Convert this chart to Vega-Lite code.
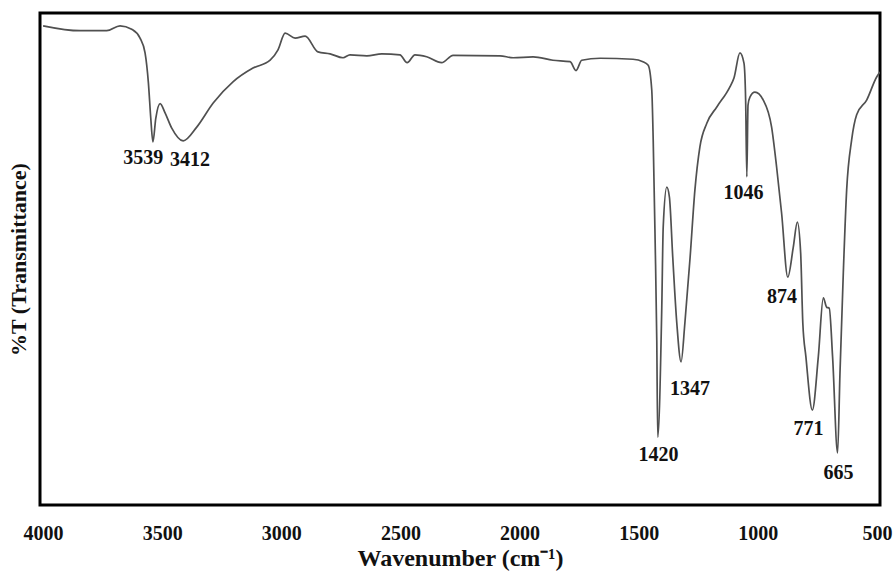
{
  "$schema": "https://vega.github.io/schema/vega-lite/v6.json",
  "autosize": {"type": "none"},
  "padding": {"left": 40, "top": 13, "right": 14, "bottom": 74},
  "width": 840,
  "height": 492,
  "background": "white",
  "config": {
    "view": {"stroke": "black", "strokeWidth": 3},
    "font": "Liberation Serif"
  },
  "datasets": {
    "spectrum": [
      {"wn": 4000, "t": 97.4}, {"wn": 3845, "t": 96.4}, {"wn": 3733, "t": 96.4},
      {"wn": 3677, "t": 97.4}, {"wn": 3628, "t": 96.7}, {"wn": 3593, "t": 94.9},
      {"wn": 3572, "t": 91.9}, {"wn": 3558, "t": 85.8}, {"wn": 3548, "t": 78.6},
      {"wn": 3539, "t": 73.8}, {"wn": 3527, "t": 78.6}, {"wn": 3509, "t": 81.6},
      {"wn": 3488, "t": 79.7}, {"wn": 3460, "t": 76.6}, {"wn": 3412, "t": 74.0},
      {"wn": 3355, "t": 76.8}, {"wn": 3286, "t": 81.7}, {"wn": 3203, "t": 86.0},
      {"wn": 3119, "t": 88.8}, {"wn": 3047, "t": 90.4}, {"wn": 3014, "t": 92.5},
      {"wn": 2984, "t": 95.9}, {"wn": 2942, "t": 94.9}, {"wn": 2900, "t": 95.3},
      {"wn": 2846, "t": 92.1}, {"wn": 2795, "t": 91.7}, {"wn": 2741, "t": 90.9},
      {"wn": 2712, "t": 91.5}, {"wn": 2641, "t": 91.3}, {"wn": 2578, "t": 91.7},
      {"wn": 2502, "t": 91.5}, {"wn": 2472, "t": 89.9}, {"wn": 2439, "t": 91.5},
      {"wn": 2390, "t": 91.1}, {"wn": 2327, "t": 89.9}, {"wn": 2279, "t": 91.4},
      {"wn": 2082, "t": 91.3}, {"wn": 2027, "t": 90.9}, {"wn": 1943, "t": 91.1},
      {"wn": 1860, "t": 90.4}, {"wn": 1788, "t": 90.1}, {"wn": 1763, "t": 88.3},
      {"wn": 1739, "t": 90.4}, {"wn": 1662, "t": 90.8}, {"wn": 1524, "t": 90.6},
      {"wn": 1482, "t": 90.1}, {"wn": 1460, "t": 89.4}, {"wn": 1445, "t": 84.3},
      {"wn": 1439, "t": 74.2}, {"wn": 1431, "t": 53.9}, {"wn": 1424, "t": 33.5},
      {"wn": 1420, "t": 13.8}, {"wn": 1403, "t": 40.2}, {"wn": 1397, "t": 56.5},
      {"wn": 1382, "t": 64.6}, {"wn": 1371, "t": 62.6}, {"wn": 1357, "t": 50.4},
      {"wn": 1340, "t": 37.0}, {"wn": 1322, "t": 29.1}, {"wn": 1306, "t": 37.0},
      {"wn": 1284, "t": 50.4}, {"wn": 1264, "t": 64.0}, {"wn": 1243, "t": 72.8},
      {"wn": 1214, "t": 77.6}, {"wn": 1172, "t": 80.9}, {"wn": 1117, "t": 85.0},
      {"wn": 1100, "t": 86.8}, {"wn": 1075, "t": 91.9}, {"wn": 1058, "t": 89.8},
      {"wn": 1051, "t": 82.3}, {"wn": 1046, "t": 66.7}, {"wn": 1041, "t": 81.3},
      {"wn": 1033, "t": 82.9}, {"wn": 1012, "t": 83.9}, {"wn": 977, "t": 82.3},
      {"wn": 942, "t": 76.8}, {"wn": 921, "t": 68.7}, {"wn": 900, "t": 59.3},
      {"wn": 874, "t": 46.3}, {"wn": 851, "t": 52.4}, {"wn": 834, "t": 57.5},
      {"wn": 820, "t": 51.2}, {"wn": 811, "t": 37.0}, {"wn": 798, "t": 30.1},
      {"wn": 771, "t": 19.3}, {"wn": 746, "t": 30.1}, {"wn": 725, "t": 42.1},
      {"wn": 711, "t": 40.2}, {"wn": 700, "t": 40.0}, {"wn": 686, "t": 30.1},
      {"wn": 665, "t": 10.6}, {"wn": 655, "t": 26.8}, {"wn": 641, "t": 47.2},
      {"wn": 627, "t": 64.0}, {"wn": 606, "t": 74.2}, {"wn": 585, "t": 79.3},
      {"wn": 543, "t": 82.3}, {"wn": 501, "t": 87.0}, {"wn": 487, "t": 88.0}
    ],
    "peaks": [
      {"wn": 3580, "t": 70.5, "label": "3539"},
      {"wn": 3383, "t": 70.1, "label": "3412"},
      {"wn": 1060, "t": 63.5, "label": "1046"},
      {"wn": 898, "t": 42.2, "label": "874"},
      {"wn": 1285, "t": 23.5, "label": "1347"},
      {"wn": 1417, "t": 10.1, "label": "1420"},
      {"wn": 787, "t": 15.5, "label": "771"},
      {"wn": 661, "t": 6.6, "label": "665"}
    ]
  },
  "layer": [
    {
      "data": {"name": "spectrum"},
      "mark": {"type": "line", "color": "#505050", "strokeWidth": 1.7, "clip": true, "interpolate": "monotone"},
      "encoding": {
        "x": {
          "field": "wn", "type": "quantitative",
          "scale": {"domain": [4013, 487], "nice": false, "zero": false},
          "axis": {
            "values": [4000, 3500, 3000, 2500, 2000, 1500, 1000, 500],
            "format": "d",
            "ticks": false, "tickSize": 0, "domain": false, "grid": false,
            "labelFont": "Liberation Serif", "labelFontSize": 20, "labelFontWeight": "bold",
            "labelColor": "#111", "labelPadding": 18, "labelFlush": false,
            "title": "Wavenumber (cm⁻¹)",
            "titleFont": "Liberation Serif", "titleFontSize": 24, "titleFontWeight": "bold",
            "titleColor": "#111", "titlePadding": 3
          }
        },
        "y": {
          "field": "t", "type": "quantitative",
          "scale": {"domain": [0, 100], "nice": false},
          "axis": {
            "labels": false, "ticks": false, "domain": false, "grid": false,
            "title": "%T (Transmittance)",
            "titleFont": "Liberation Serif", "titleFontSize": 22, "titleFontWeight": "bold",
            "titleColor": "#111", "titlePadding": 10
          }
        }
      }
    },
    {
      "data": {"name": "peaks"},
      "mark": {"type": "text", "font": "Liberation Serif", "fontSize": 20, "fontWeight": "bold",
               "color": "#111", "align": "center", "baseline": "middle"},
      "encoding": {
        "x": {"field": "wn", "type": "quantitative"},
        "y": {"field": "t", "type": "quantitative"},
        "text": {"field": "label"}
      }
    }
  ]
}
